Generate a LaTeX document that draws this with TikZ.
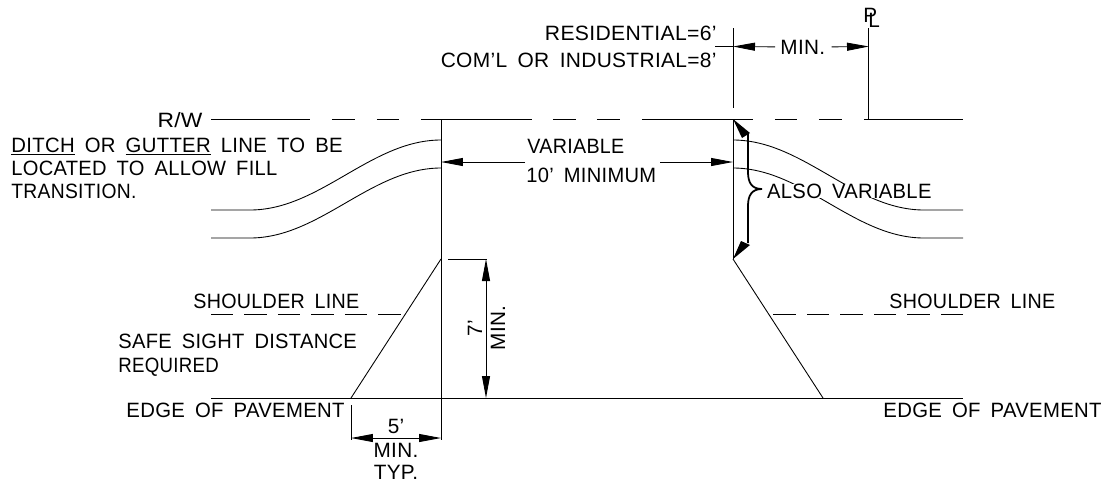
\documentclass[tikz,border=0pt]{standalone}
\usepackage{fontspec}
\setmainfont[LetterSpace=1.5,WordSpace=1.7]{Liberation Sans}
\usetikzlibrary{arrows.meta}
\tikzset{
	plan/.style={x=0.02cm, y=-0.02cm, line width=0.5pt},
	note/.style={inner sep=0, anchor=base west, font=\fontsize{11.8}{14}\selectfont},
	noter/.style={note, anchor=base east},
	wd/.style={transform shape, xscale=#1},
	dim/.style={-{Triangle[length=.44cm, width=.16cm]}},
	dimboth/.style={{Triangle[length=.44cm, width=.16cm]}-{Triangle[length=.44cm, width=.16cm]}},
	shoulder/.style={dash pattern=on .45cm off .22cm},
	rowline/.style={dash pattern=on 1.98cm off .44cm on .46cm off .44cm on .44cm off .44cm on 2.22cm off .42cm on .46cm off .42cm on .46cm off .44cm on 2.22cm off .44cm on .44cm off .44cm on .46cm off .44cm on 2cm}
}
\begin{document}
\begin{tikzpicture}[plan]
	\useasboundingbox (0, 0) rectangle (1107, 485);
	% corners of the driveway
	\coordinate (LT) at (441, 119);
	\coordinate (RT) at (733, 119);
	\coordinate (LM) at (441, 259);
	\coordinate (RM) at (733, 259);
	\coordinate (LB) at (351, 398);
	\coordinate (RB) at (823, 398);
	\coordinate (PT) at (868.5, 28);
	\coordinate (PB) at (868.5, 119);
	% long lines
	\draw [rowline] (211, 119.5) -- (963, 119.5);
	\draw (211, 398) -- (963, 398);
	\draw (LT) -- (441, 440);
	\draw (RT) -- (RM);
	\draw (733, 28) -- (733, 108);
	\draw (PT) -- (PB);
	\draw (LM) -- (LB);
	\draw (RM) -- (RB);
	\draw [shoulder] (211, 314) -- (405, 314);
	\draw [shoulder] (963, 314) -- (770, 314);
	% ditch lines
	\draw (211, 210) -- (250, 210) .. controls (320, 210) and (371, 140) .. (441, 140);
	\draw (211, 238) -- (250, 238) .. controls (320, 238) and (371, 168) .. (441, 168);
	\draw (963, 210) -- (924, 210) .. controls (854, 210) and (803, 140) .. (733, 140);
	\draw (963, 238) -- (924, 238) .. controls (854, 238) and (803, 168) .. (733, 168);
	% dimensions
	\node [note] (MT) at (780, 54) {MIN.};
	\draw [dim] (MT.west) ++(-5, 0) -- (733, 46.5);
	\draw (733, 46.5) -- (715, 46.5);
	\draw [dim] (MT.east) ++(6, 0) -- (869, 46.5);
	\node [note, wd=.95] (VA) at (527, 153) {VARIABLE};
	\node [note, wd=.97] (TM) at (526, 182) {10' MINIMUM};
	\draw [dim] (525, 162) -- (441, 162);
	\draw [dim] (660, 162) -- (733, 162);
	\draw (448, 259) -- (487, 259);
	\draw [dimboth] (486, 259) -- (486, 398);
	\draw (351, 405) -- (351, 440);
	\draw [dimboth] (351, 438) -- (441, 438);
	\node [note, anchor=center, rotate=90] (SF) at (475, 328) {7'};
	\node [note, anchor=center, rotate=90] (MS) at (498, 328) {MIN.};
	\node [note, anchor=center] (FF) at (396, 426) {5'};
	\node [note, anchor=center] (MF) at (396, 450) {MIN.};
	\node [note, anchor=center] (TY) at (396, 472) {TYP.};
	% property line mark
	\node [note] (PP) at (863, 22) {P};
	\node [note] (LL) at (868, 27) {L};
	% also variable
	\node [note, wd=.975, fill=white, inner xsep=1pt] (AV) at (765, 198) {ALSO VARIABLE};
	\draw [line width=1pt] (748, 134) -- (748, 172) .. controls (748, 183) and (752, 189) .. (762, 189)
		.. controls (752, 189) and (748, 195) .. (748, 206) -- (748, 243);
	\fill (RT) -- (750, 133) -- (742, 138) -- cycle;
	\fill (RM) -- (750, 245) -- (741, 241) -- cycle;
	% text
	\node [noter, wd=1.1] (RW) at (203, 127) {R/W};
	\node [note, wd=.98] (DG) at (11, 152) {\underline{DITCH} OR \underline{GUTTER} LINE TO BE};
	\node [note, wd=.97] (LA) at (11, 175) {LOCATED TO ALLOW FILL};
	\node [note, wd=.93] (TR) at (11, 198) {TRANSITION.};
	\node [note, wd=.95] (SL) at (193, 308) {SHOULDER LINE};
	\node [note, wd=.95] (SR) at (889, 308) {SHOULDER LINE};
	\node [note, wd=.97] (SS) at (118, 348) {SAFE SIGHT DISTANCE};
	\node [note, wd=.9] (RQ) at (118, 372) {REQUIRED};
	\node [noter, wd=.98] (EL) at (345, 417) {EDGE OF PAVEMENT};
	\node [note, wd=.98] (ER) at (883, 417) {EDGE OF PAVEMENT};
	\node [noter, wd=1.02] (RS) at (717, 40) {RESIDENTIAL=6'};
	\node [noter, wd=1.01] (CI) at (717, 67) {COM'L OR INDUSTRIAL=8'};
\end{tikzpicture}
\end{document}
